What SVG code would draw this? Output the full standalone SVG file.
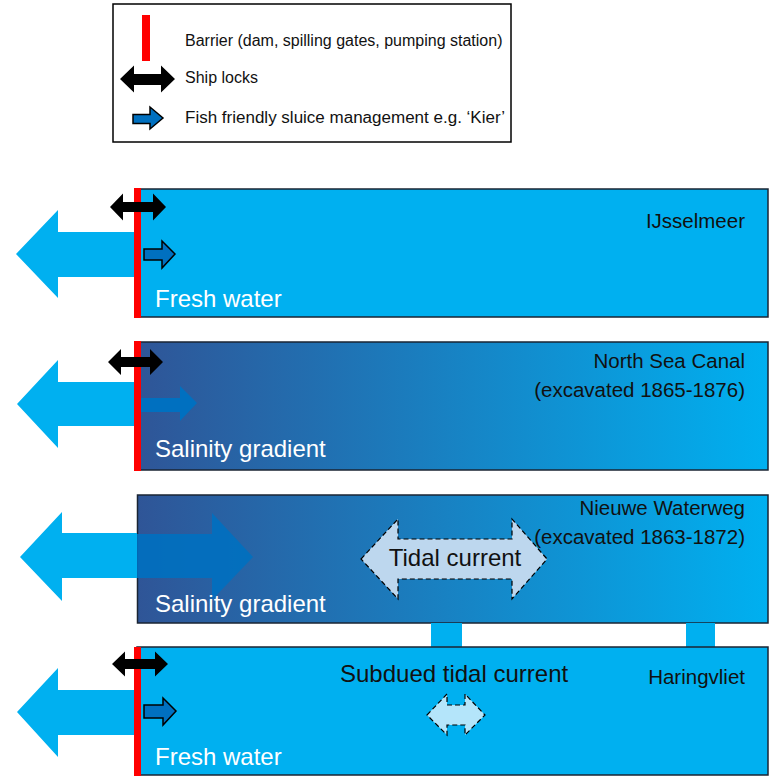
<svg xmlns="http://www.w3.org/2000/svg" width="769" height="776" viewBox="0 0 769 776">
<style>
text{font-family:"Liberation Sans",Arial,sans-serif;}
.lg{font-size:16px;fill:#111;}
.name{font-size:20.5px;fill:#111;text-anchor:end;}
.wt{font-size:24px;fill:#fff;}
.panel{stroke:#1a2433;stroke-width:1.5;}
.cyan{fill:#00B0F0;}
.lock{fill:#000;}
.fish{fill:#0070C0;stroke:#000;stroke-width:1.5;}
.bar{fill:#FF0000;}
.tide{stroke:#000;stroke-width:1.2;stroke-dasharray:5,3;}
</style>
<defs>
<linearGradient id="sal" x1="0" y1="0" x2="1" y2="0">
<stop offset="0" stop-color="#2F5597"/>
<stop offset="1" stop-color="#00B0F0"/>
</linearGradient>
</defs>

<g id="legend">
<rect x="113" y="4" width="398" height="138" fill="#fff" stroke="#000" stroke-width="1.5"/>
<rect class="bar" x="142" y="15" width="8" height="46"/>
<text class="lg" x="185" y="46">Barrier (dam, spilling gates, pumping station)</text>
<polygon class="lock" points="120,79 134,65.5 134,74 161,74 161,65.5 175,79 161,92.5 161,85 134,85 134,92.5"/>
<text class="lg" x="185" y="83">Ship locks</text>
<polygon class="fish" points="133,114.5 150,114.5 150,107 163,118 150,129 150,123.5 133,123.5"/>
<text class="lg" x="185" y="123" textLength="320" lengthAdjust="spacingAndGlyphs">Fish friendly sluice management e.g. ‘Kier’</text>
</g>

<g id="ijsselmeer">
<rect class="panel cyan" x="137" y="189" width="631" height="128"/>
<polygon class="cyan" points="16,254 58,210 58,232 134,232 134,277 58,277 58,298"/>
<rect class="bar" x="134" y="188" width="7" height="130"/>
<polygon class="lock" points="110,207 123,193.5 123,202 153,202 153,193.5 166,207 153,220.5 153,212 123,212 123,220.5"/>
<polygon class="fish" points="144,249 162,249 162,241 175,254 162,268 162,260 144,260"/>
<text class="name" x="745" y="228">IJsselmeer</text>
<text class="wt" x="155" y="307">Fresh water</text>
</g>

<g id="northsea">
<rect class="panel" fill="url(#sal)" x="137" y="342" width="631" height="128"/>
<polygon class="cyan" points="17,404 58,360 58,382 134,382 134,426 58,426 58,448"/>
<rect class="bar" x="134" y="341" width="7" height="130"/>
<polygon class="lock" points="108,362 121,349 121,357 150,357 150,349 163,362 150,375 150,367 121,367 121,375"/>
<polygon fill="#0070C0" points="141,398 180,398 180,386 197,403 180,421 180,412 141,412"/>
<text class="name" x="745" y="368">North Sea Canal</text>
<text class="name" x="745" y="397">(excavated 1865-1876)</text>
<text class="wt" x="155" y="457">Salinity gradient</text>
</g>

<g id="nieuwewaterweg">
<rect class="panel" fill="url(#sal)" x="137.5" y="495" width="630.5" height="128"/>
<polygon class="cyan" points="20,557 62,512 62,533 137,533 137,578 62,578 62,601"/>
<polygon fill="#0070C0" fill-opacity="0.9" points="137,534 212,534 212,513 253,557 212,600 212,578 137,578"/>
<polygon class="tide" fill="#BDD7EE" points="361,559 398,519 398,539 512,539 512,519 547,559 512,599 512,579 398,579 398,599"/>
<text x="455" y="566" font-size="24" fill="#111" text-anchor="middle">Tidal current</text>
<text class="name" x="745" y="515">Nieuwe Waterweg</text>
<text class="name" x="745" y="544">(excavated 1863-1872)</text>
<text class="wt" x="155" y="612">Salinity gradient</text>
</g>

<g id="connectors">
<rect class="cyan" x="431" y="623" width="31" height="24"/>
<rect class="cyan" x="686" y="623" width="29" height="24"/>
</g>

<g id="haringvliet">
<rect class="panel cyan" x="137" y="647" width="631" height="128"/>
<polygon class="cyan" points="17,712 58,668 58,690 134,690 134,735 58,735 58,757"/>
<rect class="bar" x="134" y="647" width="7" height="129"/>
<polygon class="lock" points="112,664 125,651.5 125,659 155,659 155,651.5 168,664 155,676.5 155,669 125,669 125,676.5"/>
<polygon class="fish" points="144,705 163,705 163,698 176,711 163,725 163,718 144,718"/>
<polygon class="tide" fill="#B4E5FA" points="427,715 447,694 447,705 465,705 465,694 485,715 465,735 465,725 447,725 447,735"/>
<text x="340" y="682" font-size="24" fill="#111">Subdued tidal current</text>
<text class="name" x="745" y="684">Haringvliet</text>
<text class="wt" x="155" y="765">Fresh water</text>
</g>
</svg>
